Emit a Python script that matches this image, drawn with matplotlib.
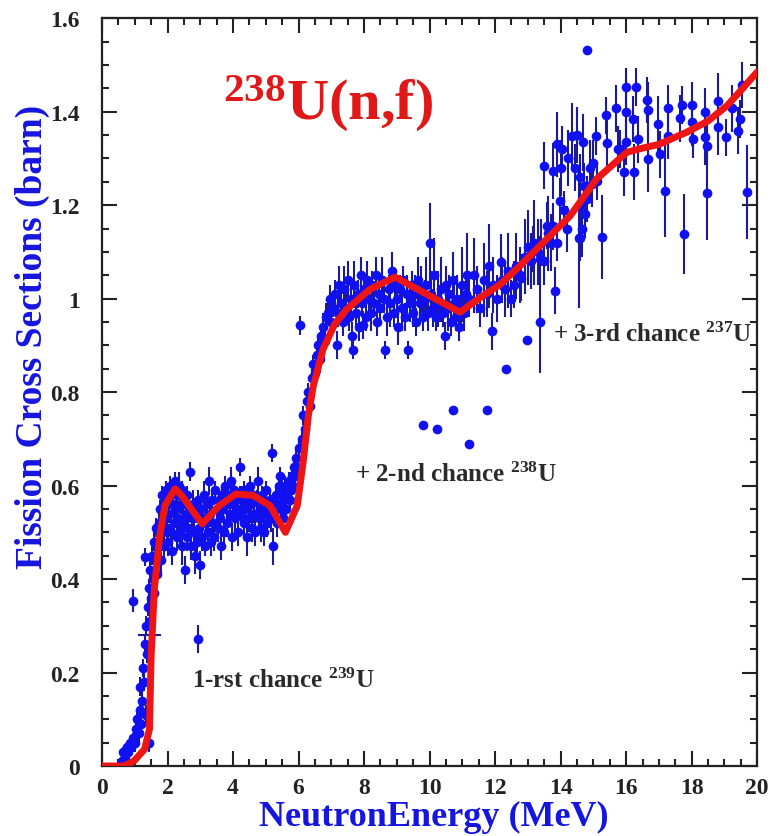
import numpy as np
import matplotlib
matplotlib.use("Agg")
import matplotlib.pyplot as plt
from matplotlib.ticker import MultipleLocator, FormatStrFormatter

plt.rcParams['font.family'] = ['Liberation Serif', 'DejaVu Serif']
plt.rcParams['font.weight'] = 'bold'
plt.rcParams['mathtext.fontset'] = 'custom'
plt.rcParams['mathtext.rm'] = 'Liberation Serif:bold'
plt.rcParams['mathtext.it'] = 'Liberation Serif:bold'
plt.rcParams['mathtext.bf'] = 'Liberation Serif:bold'

# evaluated curve
e_eval = [0, 0.67, 0.98, 1.30, 1.45, 1.50, 1.60, 1.76, 1.92, 2.23, 2.43, 3.06, 3.58, 4.09, 4.61,
          5.13, 5.60, 5.96, 6.14, 6.30, 6.45, 6.75, 7.10, 7.47, 8.18, 8.95, 10.93, 11.5, 12.15,
          12.76, 13.37, 14.29, 15.1, 16.02, 16.5, 17.0, 17.85, 18.5, 19.07, 19.5, 20.0]
s_eval = [0, 0, 0.011, 0.036, 0.079, 0.236, 0.38, 0.49, 0.557, 0.593, 0.579, 0.518, 0.557, 0.582, 0.579,
          0.557, 0.50, 0.557, 0.65, 0.75, 0.813, 0.892, 0.945, 0.977, 1.02, 1.046, 0.971, 1.0, 1.03,
          1.07, 1.113, 1.177, 1.256, 1.313, 1.322, 1.33, 1.356, 1.38, 1.412, 1.445, 1.485]

# threshold region
e_thr = [0.60, 0.65, 0.70, 0.75, 0.80, 0.85, 0.90, 0.95, 0.96, 1.00, 1.05, 1.08, 1.12, 1.15, 1.16, 1.20,
         1.22, 1.25, 1.28, 1.30, 1.31, 1.33, 1.35, 1.38, 1.40, 1.42, 1.43, 1.46, 1.48, 1.50, 1.53,
         1.55, 1.58, 1.60, 1.63, 1.65, 1.68]
s_thr = [0.01, 0.03, 0.02, 0.04, 0.03, 0.05, 0.04, 0.06, 0.354, 0.05, 0.08, 0.10, 0.07, 0.12, 0.17, 0.09,
         0.14, 0.21, 0.18, 0.26, 0.447, 0.11, 0.30, 0.24, 0.34, 0.05, 0.38, 0.31, 0.42, 0.36, 0.45,
         0.40, 0.48, 0.37, 0.44, 0.51, 0.41]
d_thr = [0.01, 0.01, 0.01, 0.01, 0.01, 0.01, 0.01, 0.01, 0.025, 0.02, 0.02, 0.02, 0.02, 0.02, 0.02, 0.02,
         0.02, 0.02, 0.02, 0.02, 0.02, 0.02, 0.02, 0.02, 0.02, 0.02, 0.02, 0.02, 0.02, 0.02, 0.02,
         0.02, 0.02, 0.03, 0.02, 0.02, 0.02]

# first plateau
e_pl = [1.72, 1.75, 1.78, 1.80, 1.83, 1.86, 1.88, 1.90, 1.93, 1.95, 1.98, 2.00, 2.03, 2.05, 2.08, 2.10,
        2.13, 2.15, 2.18, 2.20, 2.23, 2.25, 2.28, 2.30, 2.33, 2.35, 2.38, 2.40, 2.43, 2.45, 2.48, 2.50,
        2.53, 2.55, 2.58, 2.60, 2.63, 2.66, 2.69, 2.72, 2.75, 2.78, 2.80, 2.83, 2.86, 2.90, 2.93, 2.94,
        2.96, 2.99, 3.02, 3.05, 3.08, 3.10, 3.13, 3.16, 3.20, 3.23, 3.26, 3.30, 3.33, 3.36, 3.40, 3.43,
        3.46, 3.50, 3.53, 3.56, 3.60, 3.63, 3.66, 3.70, 3.73, 3.76, 3.80, 3.83, 3.86, 3.90, 3.93, 3.96,
        4.00, 4.03, 4.06, 4.10, 4.13, 4.16, 4.20, 4.21, 4.25, 4.28, 4.32, 4.35, 4.38, 4.42, 4.45, 4.48,
        4.52, 4.55, 4.58, 4.62, 4.65, 4.68, 4.72, 4.75, 4.78, 4.82, 4.85, 4.88, 4.92, 4.95, 4.98, 5.02,
        5.05, 5.08, 5.12, 5.15, 5.18, 5.20, 5.23, 5.26, 5.30, 5.33, 5.36, 5.40, 5.43, 5.46, 5.50, 5.53,
        5.56, 5.60, 5.63, 5.66, 5.70, 5.73, 5.76, 5.80, 5.83, 5.86, 5.90, 5.93, 5.96]
s_pl = [0.47, 0.52, 0.55, 0.44, 0.58, 0.50, 0.56, 0.47, 0.53, 0.59, 0.51, 0.57, 0.48, 0.54, 0.60, 0.50,
        0.56, 0.46, 0.59, 0.52, 0.61, 0.55, 0.49, 0.58, 0.53, 0.60, 0.50, 0.56, 0.47, 0.59, 0.52, 0.57,
        0.42, 0.54, 0.49, 0.58, 0.51, 0.55, 0.63, 0.47, 0.53, 0.56, 0.50, 0.45, 0.54, 0.48, 0.57, 0.272,
        0.51, 0.43, 0.55, 0.49, 0.53, 0.58, 0.47, 0.52, 0.56, 0.50, 0.61, 0.54, 0.48, 0.57, 0.52, 0.49,
        0.59, 0.55, 0.51, 0.57, 0.53, 0.47, 0.58, 0.55, 0.50, 0.60, 0.56, 0.52, 0.58, 0.54, 0.61, 0.49,
        0.56, 0.59, 0.53, 0.57, 0.55, 0.50, 0.58, 0.64, 0.54, 0.57, 0.52, 0.59, 0.55, 0.49, 0.57, 0.53,
        0.60, 0.56, 0.51, 0.58, 0.54, 0.50, 0.57, 0.61, 0.53, 0.55, 0.51, 0.58, 0.54, 0.50, 0.56, 0.59,
        0.52, 0.55, 0.57, 0.53, 0.67, 0.56, 0.47, 0.54, 0.58, 0.52, 0.56, 0.60, 0.62, 0.55, 0.58, 0.53,
        0.57, 0.60, 0.55, 0.58, 0.61, 0.57, 0.59, 0.62, 0.60, 0.64, 0.62, 0.66, 0.64]
d_pl = [0.03, 0.03, 0.02, 0.03, 0.02, 0.03, 0.02, 0.03, 0.02, 0.02, 0.03, 0.02, 0.03, 0.02, 0.02, 0.03,
        0.02, 0.03, 0.02, 0.03, 0.02, 0.02, 0.03, 0.02, 0.02, 0.03, 0.03, 0.02, 0.04, 0.02, 0.03, 0.02,
        0.03, 0.02, 0.03, 0.02, 0.03, 0.02, 0.02, 0.03, 0.02, 0.03, 0.02, 0.04, 0.02, 0.03, 0.02, 0.03,
        0.03, 0.03, 0.02, 0.03, 0.02, 0.03, 0.02, 0.03, 0.02, 0.03, 0.03, 0.02, 0.03, 0.02, 0.02, 0.03,
        0.02, 0.02, 0.03, 0.02, 0.03, 0.03, 0.02, 0.02, 0.03, 0.02, 0.02, 0.03, 0.02, 0.02, 0.03, 0.03,
        0.02, 0.02, 0.03, 0.02, 0.02, 0.03, 0.02, 0.02, 0.02, 0.03, 0.03, 0.02, 0.02, 0.04, 0.02, 0.03,
        0.02, 0.02, 0.03, 0.02, 0.02, 0.03, 0.02, 0.03, 0.02, 0.02, 0.03, 0.02, 0.02, 0.03, 0.02, 0.02,
        0.03, 0.02, 0.02, 0.03, 0.02, 0.02, 0.04, 0.02, 0.02, 0.03, 0.02, 0.02, 0.02, 0.02, 0.03, 0.02,
        0.02, 0.02, 0.02, 0.02, 0.02, 0.02, 0.02, 0.02, 0.02, 0.02, 0.02, 0.02, 0.02]

# second chance rise and plateau
e_sc = [6.00, 6.05, 6.10, 6.15, 6.20, 6.25, 6.30, 6.35, 6.40, 6.45, 6.50, 6.55, 6.60, 6.65, 6.70, 6.75,
        6.80, 6.85, 6.90, 6.95, 7.00, 7.05, 7.10, 7.17, 7.20, 7.25, 7.30, 7.35, 7.40, 7.45, 7.50, 7.55,
        7.60, 7.63, 7.65, 7.70, 7.75, 7.80, 7.85, 7.90, 7.95, 7.98, 8.00, 8.05, 8.10, 8.15, 8.20, 8.25,
        8.30, 8.35, 8.40, 8.45, 8.50, 8.55, 8.60, 8.64, 8.70, 8.75, 8.80, 8.85, 8.90, 8.95, 9.00, 9.05,
        9.10, 9.15, 9.20, 9.25, 9.30, 9.35, 9.40, 9.45, 9.50, 9.55, 9.60, 9.65, 9.70, 9.75, 9.79, 9.80,
        9.85, 9.90, 9.95, 10.00, 10.05, 10.10, 10.15, 10.20, 10.23, 10.25, 10.30, 10.35, 10.40, 10.47,
        10.50, 10.55, 10.60, 10.65, 10.70, 10.73, 10.75, 10.80, 10.85, 10.90, 10.95, 11.00, 11.05,
        11.10, 11.15]
s_sc = [0.68, 0.943, 0.70, 0.75, 0.72, 0.78, 0.80, 0.77, 0.83, 0.86, 0.84, 0.88, 0.90, 0.87, 0.92, 0.94,
        0.91, 0.96, 0.97, 1.00, 0.95, 0.98, 1.01, 0.90, 0.97, 1.03, 0.99, 0.95, 1.02, 0.98, 1.04, 0.96,
        1.00, 0.92, 0.89, 1.03, 0.97, 1.01, 0.94, 1.05, 0.99, 0.943, 1.02, 0.96, 1.04, 1.00, 0.97, 1.03,
        0.99, 1.05, 0.95, 1.01, 0.98, 1.04, 1.00, 0.89, 0.96, 1.02, 0.99, 1.06, 0.97, 1.03, 1.00, 0.94,
        1.02, 0.98, 1.04, 0.96, 1.01, 0.89, 0.99, 1.03, 0.97, 1.01, 0.95, 1.04, 0.99, 1.02, 0.73, 0.96,
        1.00, 1.03, 0.97, 1.12, 1.01, 0.98, 1.05, 0.96, 0.72, 1.00, 0.99, 1.02, 0.97, 0.92,
        1.03, 0.98, 1.01, 0.95, 1.04, 0.762, 0.99, 0.96, 1.00, 0.94, 0.98, 1.03, 0.97,
        1.01, 1.05]
d_sc = [0.02, 0.02, 0.02, 0.02, 0.02, 0.02, 0.02, 0.02, 0.02, 0.02, 0.02, 0.03, 0.02, 0.03, 0.02, 0.03,
        0.02, 0.03, 0.02, 0.03, 0.03, 0.02, 0.03, 0.03, 0.03, 0.04, 0.03, 0.03, 0.05, 0.03, 0.04, 0.03,
        0.03, 0.03, 0.02, 0.05, 0.03, 0.03, 0.03, 0.04, 0.03, 0.03, 0.03, 0.03, 0.04, 0.03, 0.04, 0.03,
        0.03, 0.04, 0.03, 0.04, 0.03, 0.05, 0.03, 0.02, 0.04, 0.03, 0.05, 0.04, 0.03, 0.03, 0.04, 0.04,
        0.03, 0.05, 0.03, 0.03, 0.04, 0.02, 0.04, 0.03, 0.03, 0.04, 0.03, 0.05, 0.03, 0.05, 0.0, 0.03,
        0.04, 0.06, 0.04, 0.085, 0.05, 0.04, 0.08, 0.03, 0.0, 0.06, 0.04, 0.07, 0.03, 0.03,
        0.04, 0.05, 0.04, 0.03, 0.06, 0.0, 0.04, 0.03, 0.05, 0.03, 0.04, 0.08, 0.04,
        0.05, 0.09]

# third chance region
e_tc = [11.20, 11.20, 11.36, 11.45, 11.55, 11.65, 11.75, 11.75, 11.80, 11.90, 11.95, 12.05, 12.18, 12.20,
        12.30, 12.34, 12.40, 12.50, 12.57, 12.65, 12.75, 12.80, 12.90, 12.97, 13.00, 13.10, 13.20, 13.30,
        13.37, 13.50, 13.60, 13.70, 13.83]
s_tc = [1.00, 0.69, 1.05, 1.02, 0.98, 1.04, 1.01, 0.762, 1.07, 0.93, 1.03, 1.00, 1.078, 1.04,
        1.02, 0.85, 1.06, 1.00, 1.03, 1.07, 1.05, 1.045, 1.09, 0.912, 1.11, 1.08, 1.12, 1.10,
        0.95, 1.08, 1.14, 1.12, 1.017]
d_tc = [0.04, 0.0, 0.08, 0.05, 0.04, 0.08, 0.05, 0.0, 0.09, 0.04, 0.06, 0.05, 0.06, 0.05,
        0.06, 0.0, 0.08, 0.04, 0.05, 0.07, 0.06, 0.05, 0.08, 0.0, 0.08, 0.06, 0.09, 0.07,
        0.11, 0.05, 0.08, 0.06, 0.05]

# 13-15 MeV cluster
e_cl = [13.0, 13.16, 13.37, 13.4, 13.5, 13.58, 13.77, 13.77, 13.88, 13.88, 13.98, 14.0, 14.05, 14.1,
        14.19, 14.23, 14.34, 14.45, 14.5, 14.57, 14.6, 14.6, 14.6, 14.65, 14.69, 14.7, 14.75, 14.8,
        14.8, 14.9, 14.95, 15.0, 15.1]
s_cl = [1.085, 1.106, 1.084, 1.12, 1.284, 1.156, 1.273, 1.155, 1.33, 1.12, 1.209, 1.28, 1.32, 1.19,
        1.149, 1.30, 1.348, 1.28, 1.35, 1.13, 1.26, 1.20, 1.13, 1.149, 1.334, 1.24, 1.18, 1.213,
        1.532, 1.28, 1.245, 1.29, 1.252]
d_cl = [0.05, 0.05, 0.05, 0.05, 0.05, 0.05, 0.06, 0.05, 0.07, 0.04, 0.05, 0.06, 0.05, 0.04,
        0.05, 0.06, 0.07, 0.05, 0.06, 0.15, 0.05, 0.04, 0.05, 0.06, 0.06, 0.05, 0.05, 0.05,
        0.0, 0.06, 0.05, 0.05, 0.04]

# high energy
e_hi = [15.08, 15.27, 15.39, 15.41, 15.68, 15.76, 15.8, 15.94, 16.0, 16.0, 16.0, 16.2, 16.24, 16.3,
        16.37, 16.63, 16.67, 16.67, 16.98, 17.04, 17.19, 17.28, 17.28, 17.65, 17.7, 17.77, 18.0, 18.0,
        18.05, 18.41, 18.41, 18.47, 18.47, 18.81, 18.81, 19.05, 19.23, 19.42, 19.48, 19.53, 19.69]
s_hi = [1.348, 1.131, 1.392, 1.333, 1.407, 1.32, 1.32, 1.27, 1.453, 1.40, 1.335, 1.384, 1.27, 1.453,
        1.341, 1.425, 1.403, 1.298, 1.373, 1.309, 1.231, 1.407, 1.348, 1.386, 1.414, 1.138, 1.414, 1.377,
        1.341, 1.40, 1.345, 1.327, 1.226, 1.423, 1.367, 1.345, 1.407, 1.359, 1.384, 1.457, 1.228]
d_hi = [0.04, 0.09, 0.04, 0.05, 0.05, 0.05, 0.04, 0.05, 0.04, 0.07, 0.05, 0.05, 0.06, 0.04,
        0.05, 0.05, 0.06, 0.07, 0.06, 0.05, 0.10, 0.05, 0.05, 0.05, 0.04, 0.085, 0.05, 0.05,
        0.04, 0.05, 0.06, 0.05, 0.10, 0.06, 0.06, 0.04, 0.05, 0.05, 0.04, 0.05, 0.10]

# single point with horizontal bar
e_h, s_h, dx_h = [1.45], [0.28], [0.35]

energy = e_thr + e_pl + e_sc + e_tc + e_cl + e_hi
xs = s_thr + s_pl + s_sc + s_tc + s_cl + s_hi
dxs = d_thr + d_pl + d_sc + d_tc + d_cl + d_hi

fig = plt.figure(figsize=(7.75, 8.37), dpi=100)
ax = fig.add_axes([0.1316, 0.0836, 0.8454, 0.8935])

ax.errorbar(energy, xs, yerr=dxs, fmt='o', color='#1010f0', ecolor='#1a1a9a',
            ms=7, mew=0, elinewidth=1.5, capsize=0, zorder=2)
ax.errorbar(e_h, s_h, xerr=dx_h, fmt='none', ecolor='#1a1a9a', elinewidth=1.5, capsize=0, zorder=2)
ax.plot(e_eval, s_eval, color='#ee1515', lw=5, zorder=3, solid_capstyle='round')

ax.set_xlim(0, 20)
ax.set_ylim(0, 1.6)
ax.xaxis.set_major_locator(MultipleLocator(2))
ax.xaxis.set_minor_locator(MultipleLocator(0.5))
ax.yaxis.set_major_locator(MultipleLocator(0.2))
ax.yaxis.set_minor_locator(MultipleLocator(0.05))
ax.yaxis.set_major_formatter(FormatStrFormatter('%g'))
ax.tick_params(which='both', direction='in', top=True, right=True, width=1.5, colors='#222222')
ax.tick_params(which='major', length=11, labelsize=17)
ax.tick_params(axis='y', which='major', pad=16)
ax.tick_params(axis='x', which='major', pad=8)
ax.tick_params(which='minor', length=5)
for sp in ax.spines.values():
    sp.set_linewidth(1.6)
    sp.set_color('#222222')

ax.set_xlabel('NeutronEnergy (MeV)', fontsize=26, fontweight='bold', color='#1515e0', va='top')
ax.xaxis.set_label_coords(0.507, -0.046)
ax.set_ylabel('Fission Cross Sections (barn)', fontsize=27, fontweight='bold', color='#1515e0')
ax.yaxis.set_label_coords(-0.08, 0.575)

ax.text(3.7, 1.384, r'$^{238}$U(n,f)', fontsize=42, color='#e01818', ha='left', va='baseline')
ax.text(2.75, 0.169, r'1-rst chance $^{239}$U', fontsize=18, color='#2a2a2a', ha='left', va='baseline')
ax.text(7.73, 0.61, r'+ 2-nd chance $^{238}$U', fontsize=18, color='#2a2a2a', ha='left', va='baseline')
ax.text(13.77, 0.909, r'+ 3-rd chance $^{237}$U', fontsize=18, color='#2a2a2a', ha='left', va='baseline')

fig.savefig('out.png', dpi=100)
